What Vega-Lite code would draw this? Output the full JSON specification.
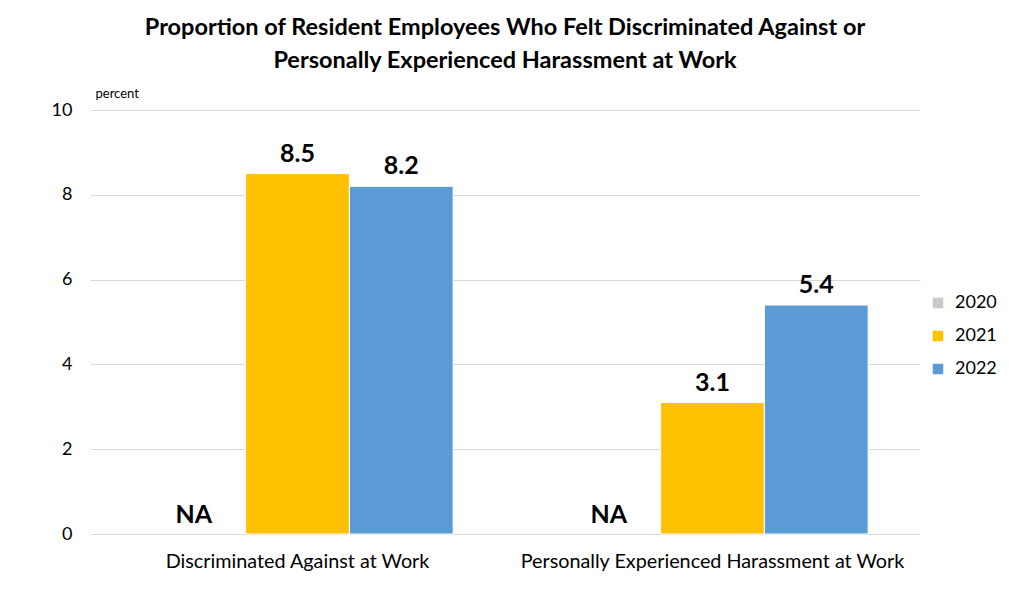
{
  "$schema": "https://vega.github.io/schema/vega-lite/v6.json",
  "width": 830,
  "height": 424,
  "autosize": {"type": "none"},
  "padding": {"left": 90, "top": 110, "right": 89, "bottom": 71},
  "background": "white",
  "title": {
    "text": ["Proportion of Resident Employees Who Felt Discriminated Against or", "Personally Experienced Harassment at Work"],
    "font": "Lato",
    "fontSize": 23.5,
    "fontWeight": "bold",
    "color": "#000000",
    "lineHeight": 33,
    "anchor": "middle",
    "offset": 15
  },
  "data": {
    "values": [
      {"category": "Discriminated Against at Work", "year": "2020", "value": null, "label": "NA"},
      {"category": "Discriminated Against at Work", "year": "2021", "value": 8.5, "label": "8.5"},
      {"category": "Discriminated Against at Work", "year": "2022", "value": 8.2, "label": "8.2"},
      {"category": "Personally Experienced Harassment at Work", "year": "2020", "value": null, "label": "NA"},
      {"category": "Personally Experienced Harassment at Work", "year": "2021", "value": 3.1, "label": "3.1"},
      {"category": "Personally Experienced Harassment at Work", "year": "2022", "value": 5.4, "label": "5.4"}
    ]
  },
  "encoding": {
    "x": {
      "field": "category",
      "type": "nominal",
      "sort": null,
      "scale": {"paddingInner": 0.25, "paddingOuter": 0.125},
      "axis": {
        "title": null,
        "labelAngle": 0,
        "labelFont": "Lato",
        "labelFontSize": 19.8,
        "labelColor": "#000000",
        "labelPadding": 17,
        "labelLimit": 0,
        "domain": false,
        "ticks": false
      }
    },
    "xOffset": {"field": "year", "type": "nominal", "sort": ["2020", "2021", "2022"], "scale": {"paddingInner": 0, "paddingOuter": 0}}
  },
  "layer": [
    {
      "mark": {"type": "bar", "stroke": "white", "strokeWidth": 1},
      "encoding": {
        "y": {
          "field": "value",
          "type": "quantitative",
          "scale": {"domain": [0, 10], "nice": false},
          "axis": {
            "values": [0, 2, 4, 6, 8, 10],
            "title": "percent",
            "titleAngle": 0,
            "titleAlign": "left",
            "titleBaseline": "bottom",
            "titleX": 5,
            "titleY": -10,
            "titleFont": "Lato",
            "titleFontSize": 13,
            "titleFontWeight": "normal",
            "titleColor": "#000000",
            "labelFont": "Lato",
            "labelFontSize": 18,
            "labelColor": "#000000",
            "labelPadding": 18,
            "domain": false,
            "ticks": false,
            "grid": true,
            "gridColor": "#d9d9d9",
            "gridWidth": 1
          }
        },
        "color": {
          "field": "year",
          "type": "nominal",
          "sort": ["2020", "2021", "2022"],
          "scale": {"domain": ["2020", "2021", "2022"], "range": ["#c9c9c9", "#ffc000", "#5b9bd5"]},
          "legend": {
            "title": null,
            "orient": "none",
            "legendX": 839,
            "legendY": 184,
            "symbolType": "square",
            "symbolSize": 110,
            "symbolStrokeWidth": 0,
            "labelFont": "Lato",
            "labelFontSize": 18,
            "labelColor": "#000000",
            "rowPadding": 15,
            "labelOffset": 8
          }
        }
      }
    },
    {
      "transform": [{"filter": "datum.value != null"}],
      "mark": {"type": "text", "font": "Lato", "fontSize": 25, "fontWeight": "bold", "color": "#000000", "baseline": "bottom", "dy": -7},
      "encoding": {
        "y": {"field": "value", "type": "quantitative"},
        "text": {"field": "label"}
      }
    },
    {
      "transform": [{"filter": "datum.value == null"}],
      "mark": {"type": "text", "font": "Lato", "fontSize": 25, "fontWeight": "bold", "color": "#000000", "baseline": "bottom", "dy": -6},
      "encoding": {
        "y": {"datum": 0, "type": "quantitative"},
        "text": {"field": "label"}
      }
    }
  ],
  "config": {"view": {"stroke": null}}
}
